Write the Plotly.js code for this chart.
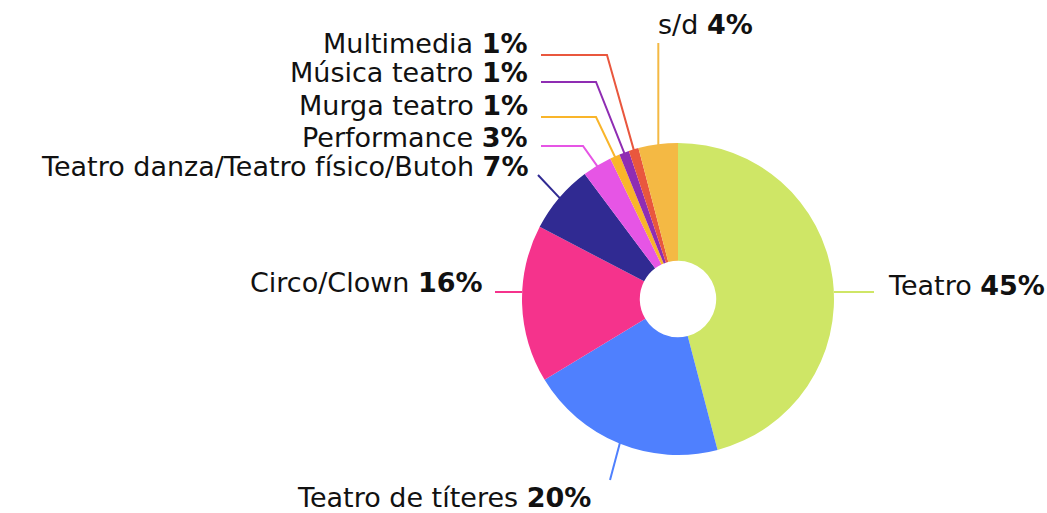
<!DOCTYPE html>
<html>
<head>
<meta charset="utf-8">
<script src="https://cdn.plot.ly/plotly-3.0.1.min.js"></script>
<style>
  body { margin: 0; background: #fff; }
  #chart { width: 1047px; height: 513px; }
</style>
</head>
<body>
<div id="chart"></div>
<script>
// data
var categories = ["Teatro", "Teatro de títeres", "Circo/Clown", "Teatro danza/Teatro físico/Butoh",
  "Performance", "Murga teatro", "Música teatro", "Multimedia", "s/d"];
var shares = [45, 20, 16, 7, 3, 1, 1, 1, 4];
var colors = ["#cfe666", "#4f80fe", "#f5338c", "#302a92", "#e655e5", "#f9b52a", "#8f2db3", "#e9573e", "#f4b944"];

// plot box (px) - square so the pie fills it
var L = 522, T = 143, SIZE = 312;
var W = 1047, H = 513;
var cx = L + SIZE / 2, cy = T + SIZE / 2, R = SIZE / 2;

function toX(px) { return (px - L) / SIZE; }
function toY(py) { return (T + SIZE - py) / SIZE; }

// point on the rim at the middle of slice i
var total = shares.reduce(function (a, b) { return a + b; }, 0);
function midPoint(i, rr) {
  var before = 0;
  for (var k = 0; k < i; k++) before += shares[k];
  var ang = (before + shares[i] / 2) / total * 2 * Math.PI;
  return [cx + rr * Math.sin(ang), cy - rr * Math.cos(ang)];
}
function rimAtY(y, side) {
  var dx = Math.sqrt(R * R - (y - cy) * (y - cy));
  return [cx + side * dx, y];
}

// label placement: text anchor + connector from the label to the slice
var labelPos = [
  { x: 886, y: 285, xa: "left",  line: function (p) { var s = rimAtY(292, 1); return [s, [874, 292]]; } },
  { x: 593, y: 497, xa: "right", line: function (p) { return [p, [610, 480]]; } },
  { x: 485, y: 282, xa: "right", line: function (p) { var s = rimAtY(292, -1); return [s, [495, 292]]; } },
  { x: 530, y: 166, xa: "right", line: function (p) { return [p, [538, 175]]; } },
  { x: 530, y: 137, xa: "right", line: function (p) { return [p, [583, 146], [541, 146]]; } },
  { x: 530, y: 105, xa: "right", line: function (p) { return [p, [596, 117], [541, 117]]; } },
  { x: 530, y: 73,  xa: "right", line: function (p) { return [p, [596, 82], [541, 82]]; } },
  { x: 530, y: 43,  xa: "right", line: function (p) { return [p, [607, 55], [541, 55]]; } },
  { x: 656, y: 24,  xa: "left",  line: function (p) { return [p, [p[0], 43]]; } }
];

var annotations = [];
var shapes = [];
categories.forEach(function (name, i) {
  var pos = labelPos[i];
  annotations.push({
    xref: "paper", yref: "paper",
    x: toX(pos.x), y: toY(pos.y),
    xanchor: pos.xa, yanchor: "middle",
    text: name + " <b>" + shares[i] + "%</b>",
    showarrow: false,
    font: { family: "DejaVu Sans", size: 27, color: "#111" }
  });
  var pts = pos.line(midPoint(i, R - 2));
  var d = pts.map(function (q, k) {
    return (k === 0 ? "M" : "L") + toX(q[0]).toFixed(4) + "," + toY(q[1]).toFixed(4);
  }).join(" ");
  shapes.push({
    type: "path", xref: "paper", yref: "paper", path: d,
    line: { color: colors[i], width: 2 }, layer: "below"
  });
});

var trace = {
  type: "pie",
  labels: categories,
  values: shares,
  sort: false,
  direction: "clockwise",
  rotation: 0,
  hole: 0.245,
  marker: { colors: colors, line: { width: 0 } },
  textinfo: "none",
  hoverinfo: "label+value",
  automargin: false,
  showlegend: false
};

var layout = {
  width: W,
  height: H,
  margin: { l: L, r: W - L - SIZE, t: T, b: H - T - SIZE },
  paper_bgcolor: "#fff",
  font: { family: "DejaVu Sans", color: "#111" },
  annotations: annotations,
  shapes: shapes
};

Plotly.newPlot("chart", [trace], layout, { displayModeBar: false });
</script>
</body>
</html>
